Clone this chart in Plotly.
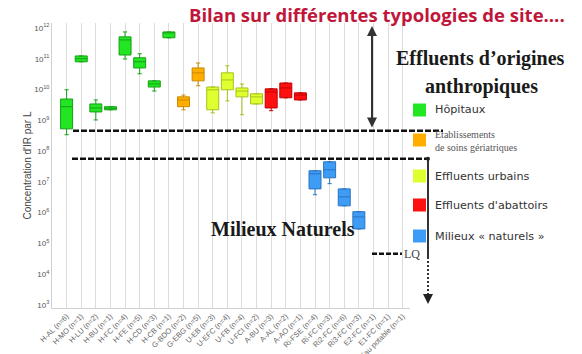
import plotly.graph_objects as go

# ---------------- data (log10 of concentration) ----------------
categories = ["H-AL (n=6)", "H-MO (n=1)", "H-LU (n=2)", "H-BU (n=1)", "H-FC (n=4)",
              "H-FE (n=5)", "H-CD (n=3)", "H-CB (n=1)", "G-BDO (n=2)", "G-EBG (n=5)",
              "U-EB (n=3)", "U-EFC (n=4)", "U-FB (n=4)", "U-FCI (n=2)", "A-BU (n=3)",
              "A-AL (n=2)", "A-AO (n=1)", "Ri-FSE (n=4)", "Ri-FC (n=3)", "Ri2-FC (n=6)",
              "Ri3-FC (n=3)", "E2-FC (n=1)", "E1-FC (n=1)", "Eau potable (n=1)"]

groups = ["Hôpitaux", "Etablissements de soins gériatriques", "Effluents urbains",
          "Effluents d'abattoirs", "Milieux « naturels »"]
group_of = [0]*8 + [1]*2 + [2]*4 + [3]*3 + [4]*4

lower  = [8.53, 10.90, 9.01, 9.34, 10.99, 10.51, 9.95, 11.68, 9.34, 10.12, 9.24, 9.63, 9.18, 9.53, 9.31, 9.73, 9.66, 6.58, 6.94, 6.22, 5.47]
q1     = [8.72, 10.90, 9.27, 9.34, 11.12, 10.70, 10.08, 11.68, 9.44, 10.28, 9.34, 9.99, 9.76, 9.53, 9.40, 9.73, 9.66, 6.77, 7.13, 6.22, 5.47]
median = [9.44, 11.00, 9.40, 9.39, 11.61, 10.90, 10.18, 11.84, 9.66, 10.54, 9.99, 10.31, 9.95, 9.76, 9.92, 10.05, 9.82, 7.26, 7.39, 6.51, 5.86]
q3     = [9.69, 11.09, 9.53, 9.44, 11.71, 11.03, 10.28, 11.87, 9.76, 10.70, 10.08, 10.54, 10.05, 9.86, 10.02, 10.21, 9.89, 7.36, 7.65, 6.77, 6.03]
upper  = [9.99, 11.09, 9.66, 9.44, 11.87, 11.16, 10.28, 11.87, 9.82, 10.86, 10.08, 10.77, 10.18, 9.86, 10.02, 10.21, 9.89, 7.36, 7.65, 6.77, 6.03]

limit_high = 8.66   # upper dashed line (log10)
limit_low = 7.75    # lower dashed line (log10)
lq_level = 4.66     # limite de quantification (log10)

fills = ["#22e622", "#ffae00", "#e0ff2e", "#ff1010", "#3d9cf5"]
edges = ["#15a015", "#c98a00", "#a8c21c", "#c00000", "#2a74c0"]

tick_exp = list(range(3, 13))

Y0, Y1 = 2.9, 12.16

def py(ypix):
    # screen row -> paper y (plot area spans rows 23..308)
    return (308 - ypix) / 285.0

def px(xpix):
    # screen column -> paper x (plot area spans columns 52..410)
    return (xpix - 52) / 358.0

def lp(v):
    return (v - Y0) / (Y1 - Y0)

fig = go.Figure()
for g in range(len(groups)):
    idx = [i for i, gg in enumerate(group_of) if gg == g]
    fig.add_trace(go.Box(
        x=[categories[i] for i in idx],
        lowerfence=[10**lower[i] for i in idx],
        q1=[10**q1[i] for i in idx],
        median=[10**median[i] for i in idx],
        q3=[10**q3[i] for i in idx],
        upperfence=[10**upper[i] for i in idx],
        fillcolor=fills[g],
        line=dict(color=edges[g], width=1),
        whiskerwidth=0.35,
        width=0.82,
        name=groups[g],
        showlegend=False,
        hoverinfo="skip",
    ))

shapes = []
shapes.append(dict(type="line", xref="paper", yref="paper", x0=px(73), x1=px(443),
                   y0=lp(limit_high), y1=lp(limit_high),
                   line=dict(color="#111111", width=2.5, dash="6px,2px")))
shapes.append(dict(type="line", xref="paper", yref="paper", x0=px(72), x1=px(428),
                   y0=lp(limit_low), y1=lp(limit_low),
                   line=dict(color="#111111", width=2.5, dash="6px,2px")))
shapes.append(dict(type="line", xref="x", yref="paper", x0=20.9, x1=22.95,
                   y0=lp(lq_level), y1=lp(lq_level),
                   line=dict(color="#111111", width=2.5, dash="5px,2px")))
shapes.append(dict(type="line", xref="paper", yref="paper", x0=px(428), x1=px(428),
                   y0=lp(limit_low), y1=py(257), line=dict(color="#333333", width=2)))
shapes.append(dict(type="line", xref="paper", yref="paper", x0=px(428), x1=px(428),
                   y0=py(257), y1=py(298), line=dict(color="#333333", width=2, dash="2px,2px")))
shapes.append(dict(type="circle", xref="paper", yref="paper",
                   x0=px(426), x1=px(430), y0=lp(limit_low) - 2/285, y1=lp(limit_low) + 2/285,
                   fillcolor="#222222", line=dict(width=0)))
sq_rows = [110, 140, 176, 205, 236]
for g, yc in enumerate(sq_rows):
    shapes.append(dict(type="rect", xref="paper", yref="paper",
                       x0=px(413), x1=px(426), y0=py(yc + 6.5), y1=py(yc - 6.5),
                       fillcolor=fills[g], line=dict(width=0)))

def txt(text, x, y, size, family, color, xanchor="center", align="center"):
    return dict(text=text, xref="paper", yref="paper", x=x, y=y, xanchor=xanchor,
                yanchor="middle", showarrow=False, align=align,
                font=dict(family=family, size=size, color=color))

annotations = []
annotations.append(txt("<b>Bilan sur différentes typologies de site….</b>", px(377), py(15),
                       18.5, "Open Sans", "#c0163a"))
annotations.append(txt("<b>Effluents d’origines</b>", px(480), py(59), 20, "Liberation Serif", "#1a1a1a"))
annotations.append(txt("<b>anthropiques</b>", px(481), py(86), 20, "Liberation Serif", "#1a1a1a"))
for g, yc in enumerate(sq_rows):
    if g == 1:
        annotations.append(txt("Etablissements<br>de soins gériatriques", px(433), py(141), 10,
                               "Liberation Serif", "#555555", xanchor="left", align="left"))
    else:
        annotations.append(txt(groups[g], px(433), py(yc), 11.2, "DejaVu Sans", "#333333",
                               xanchor="left", align="left"))
annotations.append(txt("<b>Milieux Naturels</b>", px(283), py(229), 20, "Liberation Serif", "#1a1a1a"))
annotations.append(txt("LQ", px(402), lp(lq_level), 12, "Liberation Serif", "#444444", xanchor="left"))
annotations.append(dict(text="", xref="x", yref="paper", x=20.9, y=py(26),
                        ax=0, ay=103, showarrow=True, arrowside="end+start",
                        arrowhead=2, startarrowhead=2, arrowsize=1, startarrowsize=1,
                        arrowwidth=2, arrowcolor="#333333"))
annotations.append(dict(text="", xref="paper", yref="paper", x=px(428), y=py(304),
                        ax=0, ay=-8, showarrow=True, arrowhead=2, arrowsize=1,
                        arrowwidth=2, arrowcolor="#222222"))

# the page body has an 8px margin, so the figure is sized to fill the rest of the window
fig.update_layout(
    width=574, height=346,
    margin=dict(l=44, r=172, t=15, b=46),
    paper_bgcolor="white", plot_bgcolor="white",
    boxmode="overlay",
    shapes=shapes, annotations=annotations,
    showlegend=False,
    xaxis=dict(categoryorder="array", categoryarray=categories, type="category",
               range=[-1, 23.5], showgrid=True, gridcolor="#dcdcdc", gridwidth=1,
               tickangle=-45, tickfont=dict(family="Liberation Sans", size=7.5, color="#666666"),
               showline=True, linecolor="#d0d0d0", ticks="", zeroline=False, automargin=False),
    yaxis=dict(type="log", range=[Y0, Y1], showgrid=False,
               tickvals=[10**e for e in tick_exp],
               ticktext=["10<sup>%d</sup>" % e for e in tick_exp],
               tickfont=dict(family="Liberation Sans", size=8, color="#555555"),
               showline=True, linecolor="#d0d0d0", ticks="", zeroline=False, automargin=False,
               title=dict(text="Concentration d'IR par L", standoff=0,
                          font=dict(family="Liberation Sans", size=10, color="#444444"))),
)

fig.write_html("out.html")
